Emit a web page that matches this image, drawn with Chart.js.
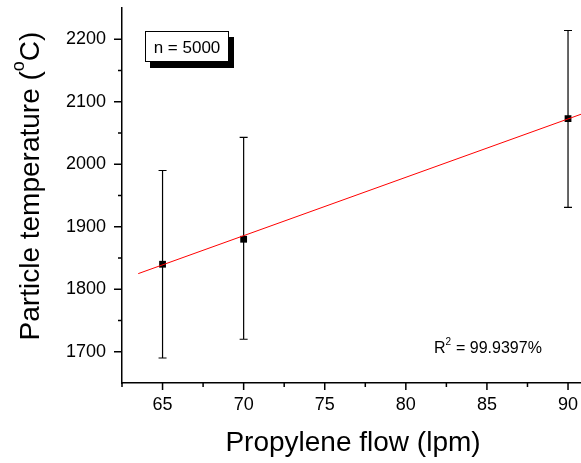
<!DOCTYPE html>
<html>
<head>
<meta charset="utf-8">
<script src="https://cdn.jsdelivr.net/npm/chart.js@4"></script>
<style>
  html, body { margin: 0; padding: 0; background: #fff; }
  #wrap { width: 581px; height: 463px; }
</style>
</head>
<body>
<div id="wrap"><canvas id="chart" width="581" height="463"></canvas></div>
<script>
// data
var xValues = [65, 70, 90];
var yValues = [1840, 1880, 2073];
var yErrTop = [1990, 2043, 2214];
var yErrBottom = [1690, 1720, 1931];

// linear fit, two end points
var fitX = [63.5, 90.8];
var fitY = [1825, 2080];

var xTicks = [65, 70, 75, 80, 85, 90];
var xMinorTicks = [62.5, 67.5, 72.5, 77.5, 82.5, 87.5];
var yTicks = [1700, 1800, 1900, 2000, 2100, 2200];
var yMinorTicks = [1750, 1850, 1950, 2050, 2150];

var FONT = '"Liberation Sans", Arial, sans-serif';

// error bars, ticks, titles, annotation
var extras = {
    id: 'extras',
    beforeDatasetsDraw: function(chart) {
        var ctx = chart.ctx;
        var xs = chart.scales.x, ys = chart.scales.y;
        ctx.save();
        ctx.strokeStyle = '#000';
        ctx.lineWidth = 1.2;
        xValues.forEach(function(xv, i) {
            var px = xs.getPixelForValue(xv);
            var t = ys.getPixelForValue(yErrTop[i]);
            var b = ys.getPixelForValue(yErrBottom[i]);
            ctx.beginPath();
            ctx.moveTo(px, t); ctx.lineTo(px, b);
            ctx.moveTo(px - 4, t); ctx.lineTo(px + 4, t);
            ctx.moveTo(px - 4, b); ctx.lineTo(px + 4, b);
            ctx.stroke();
        });
        ctx.restore();
    },
    afterDraw: function(chart) {
        var ctx = chart.ctx;
        var xs = chart.scales.x, ys = chart.scales.y;
        var ca = chart.chartArea;
        ctx.save();
        ctx.strokeStyle = '#000';
        ctx.lineWidth = 1.5;
        ctx.beginPath();
        // axis ticks (outside)
        xTicks.forEach(function(v) {
            var p = xs.getPixelForValue(v);
            ctx.moveTo(p, ca.bottom); ctx.lineTo(p, ca.bottom + 7);
        });
        xMinorTicks.forEach(function(v) {
            var p = xs.getPixelForValue(v);
            ctx.moveTo(p, ca.bottom); ctx.lineTo(p, ca.bottom + 4);
        });
        yTicks.forEach(function(v) {
            var p = ys.getPixelForValue(v);
            ctx.moveTo(ca.left, p); ctx.lineTo(ca.left - 8, p);
        });
        yMinorTicks.forEach(function(v) {
            var p = ys.getPixelForValue(v);
            ctx.moveTo(ca.left, p); ctx.lineTo(ca.left - 4, p);
        });
        ctx.stroke();

        ctx.fillStyle = '#000';
        // x title
        ctx.font = '28px ' + FONT;
        ctx.textAlign = 'center';
        ctx.textBaseline = 'alphabetic';
        ctx.fillText('Propylene flow (lpm)', 353, 451);

        // y title with superscript o
        var p1 = 'Particle temperature (', sup = 'o', p2 = 'C)';
        ctx.font = '28px ' + FONT;
        var w1 = ctx.measureText(p1).width;
        var w3 = ctx.measureText(p2).width;
        ctx.font = '18px ' + FONT;
        var w2 = ctx.measureText(sup).width;
        var total = w1 + w2 + w3;
        ctx.translate(39, 186);
        ctx.rotate(-Math.PI / 2);
        ctx.textAlign = 'left';
        var sx = -total / 2;
        ctx.font = '28px ' + FONT;
        ctx.fillText(p1, sx, 0);
        ctx.font = '18px ' + FONT;
        ctx.fillText(sup, sx + w1, -15);
        ctx.font = '28px ' + FONT;
        ctx.fillText(p2, sx + w1 + w2, 0);
        ctx.setTransform(1, 0, 0, 1, 0, 0);

        // n = 5000 box with shadow
        ctx.fillStyle = '#000';
        ctx.fillRect(150, 37, 84, 31);
        ctx.fillStyle = '#fff';
        ctx.fillRect(145, 31, 84, 31);
        ctx.lineWidth = 1;
        ctx.strokeRect(145.5, 31.5, 83, 30);
        ctx.fillStyle = '#000';
        ctx.font = '17px ' + FONT;
        ctx.textAlign = 'center';
        ctx.fillText('n = 5000', 187, 53);

        // R^2 text
        ctx.textAlign = 'left';
        ctx.font = '16px ' + FONT;
        ctx.fillText('R', 434, 353);
        var rw = ctx.measureText('R').width;
        ctx.font = '10px ' + FONT;
        ctx.fillText('2', 434 + rw, 345);
        ctx.font = '16px ' + FONT;
        ctx.fillText(' = 99.9397%', 434 + rw + 6, 353);
        ctx.restore();
    }
};

var chart = new Chart(document.getElementById('chart'), {
    type: 'scatter',
    data: {
        datasets: [{
            type: 'line',
            data: fitX.map(function(x, i) { return { x: x, y: fitY[i] }; }),
            borderColor: '#ff0000',
            borderWidth: 1,
            pointRadius: 0,
            fill: false
        }, {
            data: xValues.map(function(x, i) { return { x: x, y: yValues[i] }; }),
            pointStyle: 'rect',
            pointRadius: 4.8,
            backgroundColor: '#000',
            borderColor: '#000',
            borderWidth: 0
        }]
    },
    options: {
        responsive: false,
        animation: false,
        layout: { autoPadding: false, padding: { top: 8, right: 0, left: 0, bottom: 0 } },
        plugins: { legend: { display: false }, tooltip: { enabled: false } },
        scales: {
            x: {
                type: 'linear', min: 62.5, max: 90.8,
                afterBuildTicks: function(s) { s.ticks = xTicks.map(function(v) { return { value: v }; }); },
                afterFit: function(s) { s.height = 80; s.paddingLeft = 0; s.paddingRight = 0; },
                grid: { display: false, drawTicks: false },
                border: { display: true, color: '#000', width: 1.5 },
                ticks: { color: '#000', padding: 11, maxRotation: 0, font: { family: FONT, size: 18 },
                    callback: function(v) { return String(v); } }
            },
            y: {
                type: 'linear', min: 1650, max: 2250,
                afterBuildTicks: function(s) { s.ticks = yTicks.map(function(v) { return { value: v }; }); },
                afterFit: function(s) { s.width = 122; s.paddingTop = 0; s.paddingBottom = 0; },
                grid: { display: false, drawTicks: false },
                border: { display: true, color: '#000', width: 1.5 },
                ticks: { color: '#000', padding: 16, font: { family: FONT, size: 18 },
                    callback: function(v) { return String(v); } }
            }
        }
    },
    plugins: [extras]
});
</script>
</body>
</html>
